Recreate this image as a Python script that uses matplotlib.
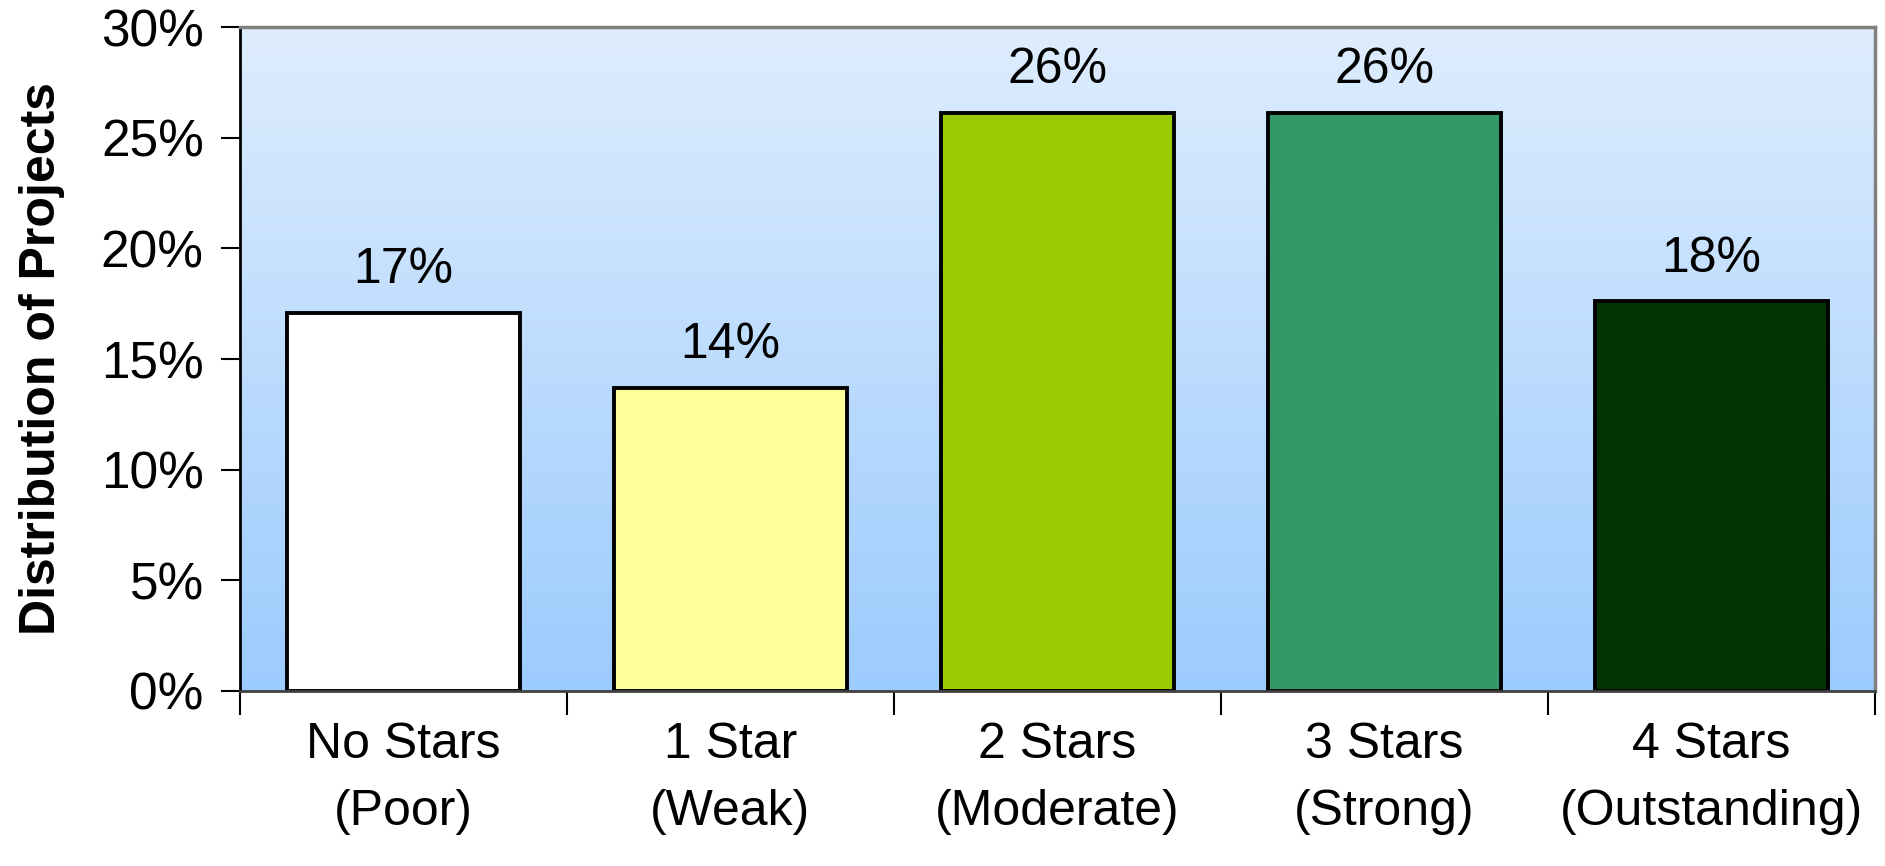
import numpy as np
import matplotlib
matplotlib.use('Agg')
import matplotlib.pyplot as plt
from matplotlib.colors import LinearSegmentedColormap

categories = ['No Stars\n(Poor)', '1 Star\n(Weak)', '2 Stars\n(Moderate)',
              '3 Stars\n(Strong)', '4 Stars\n(Outstanding)']
shares = [17.1, 13.7, 26.1, 26.1, 17.6]
labels = ['17%', '14%', '26%', '26%', '18%']
bar_colors = ['#ffffff', '#ffff99', '#99cc00', '#339966', '#003300']
yticks = [0, 5, 10, 15, 20, 25, 30]

plt.rcParams['font.family'] = ['Liberation Sans', 'DejaVu Sans']
FS = 36

fig = plt.figure(figsize=(18.85, 8.66), dpi=100)
ax = fig.add_axes([0.1273, 0.2021, 0.8674, 0.7667])

# 背景のグラデーション (上: 淡い青 → 下: 青)
cmap = LinearSegmentedColormap.from_list('bg', ['#9ccbfe', '#deedfd'])
grad = np.linspace(0, 1, 256).reshape(-1, 1)
ax.imshow(grad, cmap=cmap, aspect='auto', origin='lower',
          extent=[0, 1, 0, 1], transform=ax.transAxes, zorder=0)

x = np.arange(len(categories))
ax.bar(x, shares, width=0.71, color=bar_colors, edgecolor='black',
       linewidth=2.8, zorder=2)

for xi, v, lab in zip(x, shares, labels):
    ax.text(xi, v + 0.9, lab, ha='center', va='bottom', fontsize=FS, zorder=3)

ax.set_xlim(-0.5, len(categories) - 0.5)
ax.set_ylim(0, 30)
ax.set_yticks(yticks)
ax.set_yticklabels([f'{t}%' for t in yticks], fontsize=FS + 1)

# x の目盛りはカテゴリの境界、ラベルは中央
ax.set_xticks(np.arange(len(categories) + 1) - 0.5)
ax.set_xticklabels([])
ax.set_xticks(x, minor=True)
ax.set_xticklabels(categories, minor=True, fontsize=FS, linespacing=1.59)
ax.tick_params(axis='x', which='minor', length=0, pad=22)
ax.tick_params(axis='x', which='major', length=17, width=1.5, direction='out')
ax.tick_params(axis='y', length=14, width=1.5, direction='out', pad=12)

fig.text(0.0223, 0.586, 'Distribution of Projects', rotation=90,
         ha='center', va='center', fontsize=36, fontweight='bold')

for side in ['top', 'right']:
    ax.spines[side].set_color('#808080')
    ax.spines[side].set_linewidth(2.5)
ax.spines['left'].set_color('black')
ax.spines['left'].set_linewidth(2)
ax.spines['bottom'].set_color('#404040')
ax.spines['bottom'].set_linewidth(2)

fig.savefig('out.png', dpi=100, facecolor='white')
